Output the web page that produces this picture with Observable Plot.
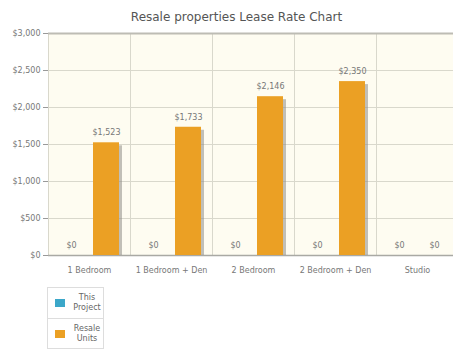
<!DOCTYPE html>
<html><head><meta charset="utf-8">
<script src="https://cdn.jsdelivr.net/npm/d3@7"></script>
<script src="https://cdn.jsdelivr.net/npm/@observablehq/plot@0.6"></script>
<style>
html,body{margin:0;padding:0;background:#fff;font-family:"DejaVu Sans",sans-serif;}
#wrap{width:453px;height:358px;overflow:hidden;position:relative;}
#title{position:absolute;left:20px;top:0;width:433px;height:26px;line-height:34px;text-align:center;font-size:12px;color:#555;}
#chart{position:absolute;left:0;top:26px;width:460px;}
#chart svg{max-width:none !important;}
#legend{position:absolute;left:47px;top:287px;width:55px;border:1px solid #ddd;background:#fff;}
.item{display:flex;align-items:center;height:30px;box-sizing:border-box;}
.item + .item{border-top:1px solid #ddd;}
.sw{width:10px;height:8px;margin-left:7px;flex:none;}
.lbl{flex:1;text-align:center;font-size:8px;line-height:10px;color:#666;padding-left:6px;}
</style></head><body>
<div id="wrap">
<div id="title">Resale properties Lease Rate Chart</div>
<div id="chart"></div>
<div id="legend"></div>
</div>
<script>
const categories = ["1 Bedroom", "1 Bedroom + Den", "2 Bedroom", "2 Bedroom + Den", "Studio"];
const series = ["This Project", "Resale Units"];
const thisProject = [0, 0, 0, 0, 0];
const resaleUnits = [1523, 1733, 2146, 2350, 0];
const yTicks = [0, 500, 1000, 1500, 2000, 2500, 3000];
const colors = ["#3ba7c9", "#eba024"];

const data = categories.flatMap((c, i) => [
  {category: c, series: series[0], value: thisProject[i]},
  {category: c, series: series[1], value: resaleUnits[i]}
]);
const fmt = d3.format("$,");

const chart = Plot.plot({
  width: 460, height: 254,
  marginLeft: 46, marginRight: 0, marginTop: 7, marginBottom: 25,
  style: {fontFamily: "DejaVu Sans, sans-serif", fontSize: "8px", color: "#777", background: "transparent", overflow: "visible", maxWidth: "none"},
  fx: {domain: categories, padding: 0, label: null},
  x: {domain: series, paddingInner: 0.25, paddingOuter: 0.275, axis: null},
  y: {domain: [0, 3000], label: null},
  color: {domain: series, range: colors},
  marks: [
    Plot.frame({fill: "#fefcf1", stroke: null}),
    Plot.gridY(yTicks, {stroke: "#d9d8cc", strokeOpacity: 1}),
    Plot.frame({anchor: "left", stroke: "#d9d8cc"}),
    Plot.ruleY([3000], {stroke: "#bdbcb4", strokeWidth: 2}),
    Plot.ruleY([0], {stroke: "#a9a9a4", strokeWidth: 1.5}),
    Plot.barY(data.filter(d => d.value > 0), {fx: "category", x: "series", y: "value", fill: "#8e8c86", fillOpacity: 0.55, dx: 3, dy: 3, insetBottom: 3}),
    Plot.barY(data, {fx: "category", x: "series", y: "value", fill: "series"}),
    Plot.text(data, {fx: "category", x: "series", y: "value", text: d => fmt(d.value), dy: -10, fill: "#777"}),
    Plot.axisY({ticks: yTicks, tickFormat: fmt, tickSize: 5, tickPadding: 3, stroke: "#999", label: null}),
    Plot.axisFx({anchor: "bottom", tickSize: 0, tickPadding: 12, label: null})
  ]
});
document.getElementById("chart").append(chart);

const legend = document.getElementById("legend");
series.forEach((s, i) => {
  const item = document.createElement("div");
  item.className = "item";
  const sw = document.createElement("span");
  sw.className = "sw";
  sw.style.background = colors[i];
  const lbl = document.createElement("span");
  lbl.className = "lbl";
  lbl.innerHTML = s.replace(" ", "<br>");
  item.append(sw, lbl);
  legend.append(item);
});
</script>
</body></html>
